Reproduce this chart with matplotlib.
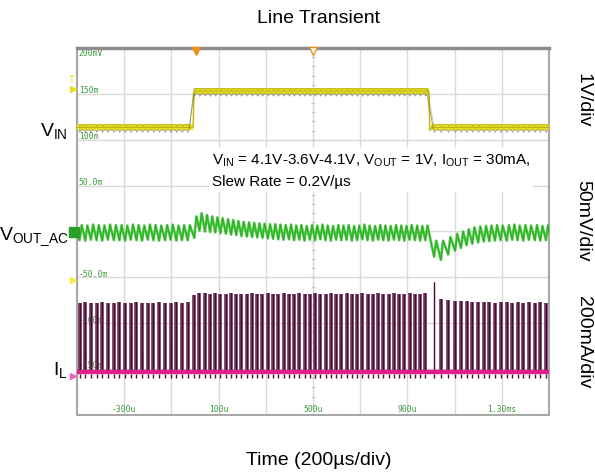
import numpy as np
import matplotlib
matplotlib.use('Agg')
import matplotlib.pyplot as plt

plt.rcParams['font.family'] = 'Liberation Sans'
plt.rcParams['mathtext.fontset'] = 'custom'
plt.rcParams['mathtext.rm'] = 'Liberation Sans'
plt.rcParams['mathtext.it'] = 'Liberation Sans:italic'
plt.rcParams['mathtext.bf'] = 'Liberation Sans:bold'

# time axis in us, vertical axis in scope divisions (0 = bottom, 8 = top)
grid_t = [-500, -300, -100, 100, 300, 500, 700, 900, 1100, 1300, 1500]
time_labels = ['-300u', '100u', '500u', '900u', '1.30ms']
time_label_t = [-300, 100, 500, 900, 1300]
scope_labels = ['200mV', '150m', '100m', '50.0m', '-50.0m', '-100m', '-150m']
scope_label_y = [7.87, 7.07, 6.07, 5.07, 3.07, 2.07, 1.07]

# VIN (yellow)
vin_t = [-500, -8, -4, 991, 995, 1002, 1500]
vin_v = [6.27, 6.27, 7.06, 7.06, 6.20, 6.27, 6.27]

# switching pulses (inductor current) and output ripple per pulse
pulse_t = [-489, -465, -441, -417, -393, -369, -344, -320, -296, -272,
           -248, -224, -200, -176, -152, -127, -103, -79, -55, -31,
           -3, 19, 42, 64, 86, 108, 131, 153, 175, 197,
           220, 242, 264, 286, 309, 331, 353, 375, 398, 420,
           442, 464, 487, 509, 531, 553, 576, 598, 620, 642,
           665, 687, 709, 731, 754, 776, 798, 820, 843, 865,
           887, 909, 932, 954, 976,
           1013, 1042, 1073, 1102, 1127, 1151, 1175, 1200, 1224, 1247,
           1271, 1295, 1321, 1344, 1367, 1391, 1415, 1440, 1463, 1487]
il_top = [2.45, 2.46, 2.45, 2.44, 2.46, 2.45, 2.45, 2.46, 2.44, 2.45,
          2.46, 2.45, 2.45, 2.44, 2.46, 2.45, 2.45, 2.46, 2.45, 2.47,
          2.62, 2.66, 2.65, 2.64, 2.65, 2.63, 2.64, 2.65, 2.64, 2.63,
          2.64, 2.65, 2.63, 2.64, 2.65, 2.64, 2.63, 2.65, 2.64, 2.64,
          2.65, 2.63, 2.64, 2.65, 2.64, 2.63, 2.65, 2.64, 2.64, 2.65,
          2.63, 2.64, 2.65, 2.64, 2.63, 2.65, 2.64, 2.64, 2.65, 2.63,
          2.64, 2.65, 2.64, 2.63, 2.65,
          2.90, 2.53, 2.50, 2.49, 2.48, 2.48, 2.47, 2.46, 2.47, 2.46,
          2.45, 2.46, 2.46, 2.45, 2.46, 2.45, 2.46, 2.45, 2.46, 2.45]
vout_lo = [3.81, 3.80, 3.82, 3.81, 3.80, 3.82, 3.81, 3.81, 3.80, 3.82,
           3.81, 3.80, 3.82, 3.81, 3.80, 3.81, 3.82, 3.80, 3.81, 3.81,
           3.86, 4.02, 4.00, 3.99, 3.98, 3.96, 3.95, 3.93, 3.92, 3.90,
           3.89, 3.88, 3.87, 3.86, 3.85, 3.84, 3.83, 3.82, 3.83, 3.81,
           3.82, 3.80, 3.82, 3.81, 3.83, 3.81, 3.80, 3.82, 3.81, 3.82,
           3.80, 3.81, 3.83, 3.81, 3.80, 3.82, 3.81, 3.80, 3.82, 3.81,
           3.80, 3.82, 3.81, 3.80, 3.81,
           3.45, 3.38, 3.50, 3.58, 3.64, 3.70, 3.73, 3.76, 3.78, 3.79,
           3.80, 3.81, 3.80, 3.82, 3.81, 3.80, 3.82, 3.81, 3.80, 3.81]
vout_hi = [4.14, 4.13, 4.15, 4.14, 4.13, 4.15, 4.14, 4.14, 4.13, 4.15,
           4.14, 4.13, 4.15, 4.14, 4.13, 4.14, 4.15, 4.13, 4.14, 4.14,
           4.33, 4.40, 4.36, 4.33, 4.31, 4.29, 4.27, 4.25, 4.23, 4.21,
           4.20, 4.19, 4.18, 4.17, 4.16, 4.16, 4.15, 4.14, 4.15, 4.13,
           4.14, 4.12, 4.14, 4.13, 4.15, 4.13, 4.12, 4.14, 4.13, 4.14,
           4.12, 4.13, 4.15, 4.13, 4.12, 4.14, 4.13, 4.12, 4.14, 4.13,
           4.12, 4.14, 4.13, 4.12, 4.13,
           3.80, 3.80, 3.88, 3.95, 4.00, 4.05, 4.09, 4.11, 4.12, 4.13,
           4.14, 4.13, 4.14, 4.15, 4.13, 4.14, 4.13, 4.14, 4.12, 4.14]
il_base = 0.94

# short intermediate spikes seen inside the current trace
short_t = [-465, -296, -272, -224, -127, -103, 108, 153, 309, 398, 576, 620, 932, 1102, 1247, 1391]
short_top = [1.55, 2.20, 1.75, 1.40, 1.90, 1.60, 1.45, 2.05, 1.30, 1.85, 1.35, 1.70, 1.90, 1.50, 1.80, 1.35]

fig = plt.figure(figsize=(5.95, 4.73), dpi=100)
ax = fig.add_axes([77 / 595, 1 - 415 / 473, 472 / 595, 367 / 473])
ax.set_xlim(-500, 1500)
ax.set_ylim(0, 8)
ax.set_xticks(grid_t)
ax.set_yticks(range(0, 9))
ax.tick_params(length=0, labelbottom=False, labelleft=False)
ax.grid(True, color='#dadada', lw=1.0, zorder=0)
ax.set_axisbelow(True)
for s in ax.spines.values():
    s.set_color('#a8a8a8')
    s.set_linewidth(1.5)
ax.spines['top'].set_color('#8c8c8c')
ax.spines['top'].set_linewidth(2.5)

# small ticks on the centre cross
ax.plot([500] * 41, np.linspace(0, 8, 41), ls='none', marker='_', ms=3.5, color='#cccccc', zorder=1)

# scope readout text
for lab, yy in zip(scope_labels, scope_label_y):
    ax.text(-492, yy, lab, fontsize=5.8, family='DejaVu Sans Mono', color='#3c9a3c',
            va='center', ha='left', zorder=1.5)
for lab, tt in zip(time_labels, time_label_t):
    ax.text(tt, 0.12, lab, fontsize=5.8, family='DejaVu Sans Mono', color='#3c9a3c',
            va='center', ha='center', zorder=1.5)

# VIN: thick on the flat levels, thin on the edges
for i in range(len(vin_t) - 1):
    flat = vin_v[i] == vin_v[i + 1]
    ax.plot(vin_t[i:i + 2], vin_v[i:i + 2], color='#e6de1e',
            lw=4.2 if flat else 1.2, solid_capstyle='butt', zorder=3)
ax.plot(vin_t, vin_v, color='#7a7a18', lw=0.6, alpha=0.5, zorder=3.05)
vin_at = np.interp(pulse_t, vin_t, vin_v)
nt, nv, ut, uv = [], [], [], []
for t, b in zip(pulse_t, vin_at):
    nt += [t - 2, t + 1, t + 6]
    nv += [b - 0.06, b - 0.11, b - 0.06]
    ut += [t - 2, t + 3, t + 8]
    uv += [b + 0.06, b + 0.03, b + 0.06]
ax.plot(nt, nv, color='#5a5a14', lw=0.6, alpha=0.6, zorder=3.1)
ax.plot(ut, uv, color='#5a5a14', lw=0.5, alpha=0.4, zorder=3.1)

# VOUT ripple
vt, vv = [-500], [3.97]
for t, lo, hi in zip(pulse_t, vout_lo, vout_hi):
    vt += [t, t + 9]
    vv += [lo, hi]
vt.append(1500)
vv.append(3.97)
ax.plot(vt, vv, color='#44cc3a', lw=1.8, zorder=3)
ax.plot(vt, vv, color='#1f6e1f', lw=0.5, alpha=0.5, zorder=3.1)

# inductor current pulses
widths = [1.0 if h > 2.8 else 2.6 for h in il_top]
ax.vlines(pulse_t, il_base, il_top, colors='#70305a', lw=widths, zorder=3)
ax.vlines(pulse_t, il_base, il_top, colors='#42102e', lw=0.8, zorder=3.1)
ax.vlines(short_t, il_base, short_top, colors='#42102e', lw=0.8, zorder=3.1)
ax.plot(pulse_t, [il_base - 0.08] * len(pulse_t), ls='none', marker='|', ms=2.5,
        color='#42102e', zorder=3)
ax.axhline(il_base, color='#e0208a', lw=3.2, zorder=3.5)

# channel / trigger markers
trans = ax.get_yaxis_transform()
ax.text(-0.012, 7.30, 'T', transform=trans, color='#e8e020', fontsize=7, ha='center', va='center', clip_on=False)
ax.plot([-0.008], [7.10], transform=trans, marker='>', ms=5, color='#e8e020', clip_on=False, zorder=5)
ax.plot([-0.006], [3.99], transform=trans, marker='s', ms=7, color='#2aa02a', clip_on=False, zorder=5)
ax.plot([-0.008], [2.94], transform=trans, marker='>', ms=5, color='#f0f040', clip_on=False, zorder=5)
ax.plot([-0.008], [0.85], transform=trans, marker='>', ms=5, color='#f060c0', clip_on=False, zorder=5)
ax.plot([5], [7.93], marker='v', ms=6, color='#f0901c', clip_on=False, zorder=5)
ax.plot([500], [7.93], marker='v', ms=6, mfc='white', mec='#f0901c', clip_on=False, zorder=5)

# annotation
ax.text(72, 5.32, r'V$_{\mathrm{IN}}$ = 4.1V-3.6V-4.1V, V$_{\mathrm{OUT}}$ = 1V, I$_{\mathrm{OUT}}$ = 30mA,'
        '\nSlew Rate = 0.2V/µs', fontsize=11, ha='left', va='center', linespacing=1.6,
        bbox=dict(facecolor='white', edgecolor='none', pad=2), zorder=4)

# outer labels
fig.text(0.536, 0.960, 'Line Transient', fontsize=14, ha='center', va='center')
fig.text(0.536, 0.027, 'Time (200µs/div)', fontsize=14, ha='center', va='center')
fig.text(68 / 595, 1 - 131 / 473, r'V$_{\mathrm{IN}}$', fontsize=14, ha='right', va='center')
fig.text(69 / 595, 1 - 237 / 473, r'V$_{\mathrm{OUT\_AC}}$', fontsize=14, ha='right', va='center')
fig.text(68 / 595, 1 - 370 / 473, r'I$_{\mathrm{L}}$', fontsize=14, ha='right', va='center')
fig.text(583 / 595, 1 - 100 / 473, '1V/div', fontsize=14, rotation=270, ha='center', va='center')
fig.text(583 / 595, 1 - 221 / 473, '50mV/div', fontsize=14, rotation=270, ha='center', va='center')
fig.text(583 / 595, 1 - 342 / 473, '200mA/div', fontsize=14, rotation=270, ha='center', va='center')

fig.savefig('out.png', dpi=100)
